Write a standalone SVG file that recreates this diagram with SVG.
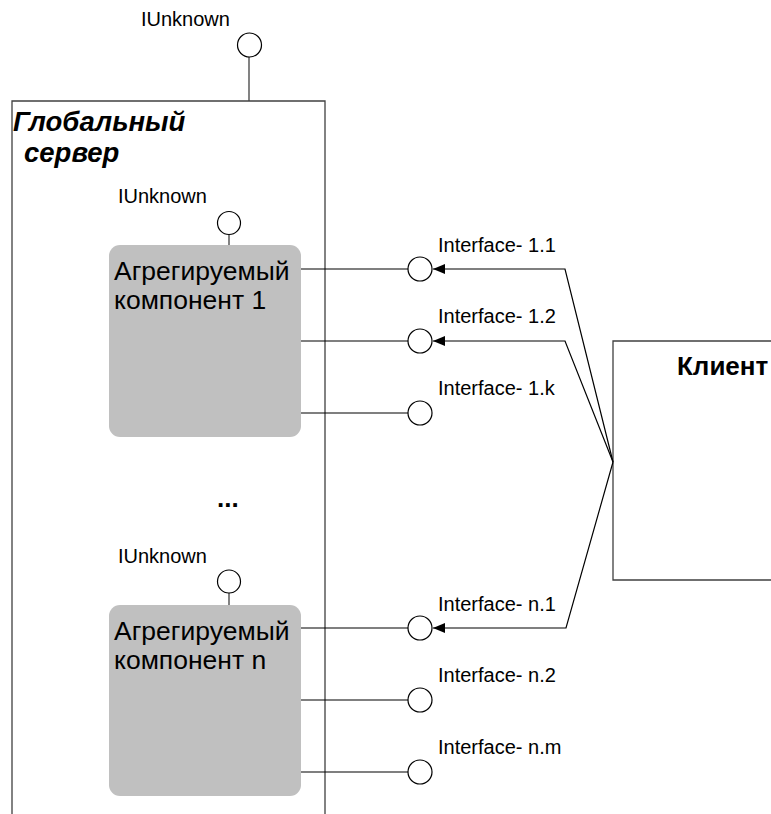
<svg xmlns="http://www.w3.org/2000/svg" width="771" height="814" viewBox="0 0 771 814">
<style>
text{font-family:"Liberation Sans",Arial,sans-serif;fill:#000}
.lbl{font-size:20px}
.comp{font-size:26.5px}
.ttl{font-size:27.5px;font-weight:bold;font-style:italic}
.cl{font-size:26px;font-weight:bold}
.box{fill:#fff;stroke:#404040;stroke-width:1.3}
.cbox{fill:#c0c0c0;stroke:none}
.lol{fill:#fff;stroke:#000;stroke-width:1.2}
.ln{fill:none;stroke:#000;stroke-width:1.2}
.gl{fill:none;stroke:#404040;stroke-width:1.3}
</style>
<defs>
<marker id="arr" viewBox="0 0 12 10" refX="12" refY="5" markerWidth="12" markerHeight="10" markerUnits="userSpaceOnUse" orient="auto">
<path d="M0,0 L12,5 L0,10 Z" fill="#000"/>
</marker>
</defs>
<rect width="771" height="814" fill="#fff"/>
<g id="global-server">
<path class="gl" d="M12,820 V101 H325 V820"/>
<text class="ttl" x="13" y="131">Глобальный</text>
<text class="ttl" x="24" y="162">сервер</text>
</g>
<g id="iunknown-global">
<line class="gl" x1="249" y1="57" x2="249" y2="101"/>
<circle class="lol" cx="249.5" cy="45" r="12"/>
<text class="lbl" x="141" y="26">IUnknown</text>
</g>
<g id="client">
<path class="gl" d="M780,341 H613 V580 H780"/>
<text class="cl" x="677" y="375">Клиент</text>
</g>
<g id="component-1">
<rect class="cbox" x="109" y="245" width="192" height="192" rx="11"/>
<text class="comp" x="114" y="280">Агрегируемый</text>
<text class="comp" x="114" y="309">компонент 1</text>
</g>
<g id="iunknown-1">
<line class="gl" x1="229" y1="235" x2="229" y2="245"/>
<circle class="lol" cx="229" cy="223" r="11.5"/>
<text class="lbl" x="118" y="203">IUnknown</text>
</g>
<g id="component-n">
<rect class="cbox" x="109" y="605" width="192" height="191" rx="11"/>
<text class="comp" x="114" y="640">Агрегируемый</text>
<text class="comp" x="114" y="669">компонент n</text>
</g>
<g id="iunknown-n">
<line class="gl" x1="229" y1="593" x2="229" y2="605"/>
<circle class="lol" cx="229" cy="581.5" r="11.5"/>
<text class="lbl" x="118" y="563">IUnknown</text>
</g>
<text id="ellipsis" class="cl" x="217" y="507">...</text>
<g id="connectors">
<line class="ln" x1="301" y1="269" x2="408" y2="269"/>
<line class="ln" x1="301" y1="341" x2="408" y2="341"/>
<line class="ln" x1="301" y1="413" x2="408" y2="413"/>
<line class="ln" x1="301" y1="628" x2="408" y2="628"/>
<line class="ln" x1="301" y1="700" x2="408" y2="700"/>
<line class="ln" x1="301" y1="772" x2="408" y2="772"/>
<polyline class="ln" points="613,462 565,269 433,269" marker-end="url(#arr)"/>
<polyline class="ln" points="613,462 565,341 433,341" marker-end="url(#arr)"/>
<polyline class="ln" points="613,462 566,628 433,628" marker-end="url(#arr)"/>
</g>
<g id="interfaces">
<circle class="lol" cx="420" cy="269" r="12"/>
<circle class="lol" cx="420" cy="341" r="12"/>
<circle class="lol" cx="420" cy="413" r="12"/>
<circle class="lol" cx="420" cy="628" r="12"/>
<circle class="lol" cx="420" cy="700" r="12"/>
<circle class="lol" cx="420" cy="772" r="12"/>
<text class="lbl" x="438" y="252">Interface- 1.1</text>
<text class="lbl" x="438" y="323">Interface- 1.2</text>
<text class="lbl" x="438" y="395">Interface- 1.k</text>
<text class="lbl" x="438" y="611">Interface- n.1</text>
<text class="lbl" x="438" y="682">Interface- n.2</text>
<text class="lbl" x="438" y="754">Interface- n.m</text>
</g>
</svg>
